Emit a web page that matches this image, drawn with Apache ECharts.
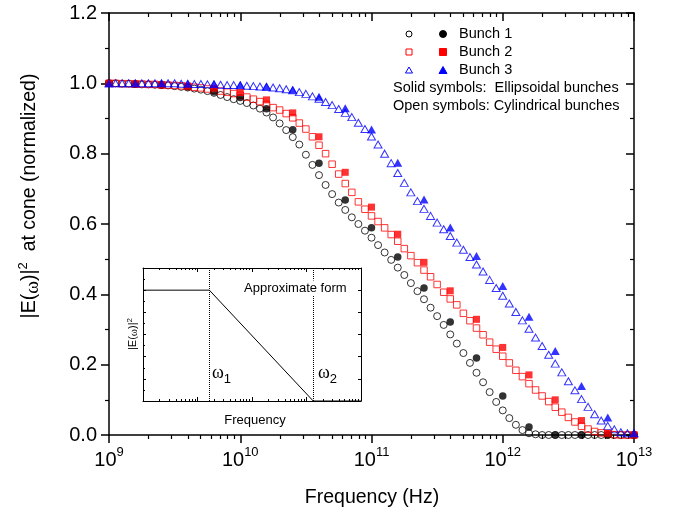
<!DOCTYPE html>
<html lang="en">
<head>
<meta charset="UTF-8" />
<title>Bunch spectra at cone</title>
<script src="https://cdn.jsdelivr.net/npm/echarts@6/dist/echarts.min.js"></script>
<style>
  html, body { margin: 0; padding: 0; background: #fff; }
  #chart { width: 677px; height: 513px; }
</style>
</head>
<body>
<div id="chart"></div>
<script>
// log10 of frequency (Hz) for the dense open-symbol series
const openExp = [
  9.00, 9.05, 9.10, 9.15, 9.20, 9.25, 9.30, 9.35, 9.40, 9.45,
  9.50, 9.55, 9.60, 9.65, 9.70, 9.75, 9.80, 9.85, 9.90, 9.95,
  10.00, 10.05, 10.10, 10.15, 10.20, 10.25, 10.30, 10.35, 10.40, 10.45,
  10.50, 10.55, 10.60, 10.65, 10.70, 10.75, 10.80, 10.85, 10.90, 10.95,
  11.00, 11.05, 11.10, 11.15, 11.20, 11.25, 11.30, 11.35, 11.40, 11.45,
  11.50, 11.55, 11.60, 11.65, 11.70, 11.75, 11.80, 11.85, 11.90, 11.95,
  12.00, 12.05, 12.10, 12.15, 12.20, 12.25, 12.30, 12.35, 12.40, 12.45,
  12.50, 12.55, 12.60, 12.65, 12.70, 12.75, 12.80, 12.85, 12.90, 12.95,
  13.00
]
// log10 of frequency (Hz) for the sparse solid-symbol series
const solidExp = [
  9.0, 9.2, 9.4, 9.6, 9.8, 10.0, 10.2, 10.4, 10.6, 10.8,
  11.0, 11.2, 11.4, 11.6, 11.8, 12.0, 12.2, 12.4, 12.6, 12.8, 13.0
]

// cylindrical bunches (open symbols)
const bunch1Open = [
  1.000, 1.000, 0.999, 0.999, 0.998, 0.997, 0.997, 0.996, 0.995, 0.994,
  0.992, 0.990, 0.988, 0.985, 0.982, 0.978, 0.973, 0.967, 0.961, 0.955,
  0.950, 0.944, 0.937, 0.928, 0.917, 0.903, 0.886, 0.867, 0.847, 0.826,
  0.797, 0.768, 0.739, 0.711, 0.685, 0.661, 0.640, 0.619, 0.600, 0.581,
  0.561, 0.540, 0.519, 0.498, 0.476, 0.455, 0.432, 0.409, 0.386, 0.362,
  0.338, 0.313, 0.286, 0.260, 0.233, 0.205, 0.177, 0.150, 0.122, 0.094,
  0.070, 0.048, 0.029, 0.014, 0.005, 0.002, 0, 0, 0, 0,
  0, 0, 0, 0, 0, 0, 0, 0, 0, 0,
  0
]
const bunch2Open = [
  1.000, 1.000, 0.999, 0.999, 0.998, 0.998, 0.997, 0.997, 0.996, 0.995,
  0.994, 0.993, 0.991, 0.989, 0.987, 0.984, 0.981, 0.978, 0.975, 0.971,
  0.966, 0.961, 0.955, 0.948, 0.940, 0.931, 0.924, 0.914, 0.902, 0.887,
  0.870, 0.848, 0.824, 0.800, 0.770, 0.742, 0.715, 0.690, 0.663, 0.642,
  0.623, 0.607, 0.589, 0.570, 0.551, 0.530, 0.510, 0.490, 0.469, 0.450,
  0.428, 0.406, 0.387, 0.370, 0.346, 0.325, 0.304, 0.285, 0.264, 0.244,
  0.224, 0.205, 0.184, 0.166, 0.146, 0.128, 0.111, 0.095, 0.079, 0.065,
  0.050, 0.037, 0.025, 0.017, 0.010, 0.006, 0.003, 0.001, 0, 0,
  0
]
const bunch3Open = [
  1.000, 1.000, 1.000, 1.000, 1.000, 1.000, 1.000, 1.000, 1.000, 1.000,
  1.000, 0.999, 0.999, 0.998, 0.998, 0.997, 0.997, 0.996, 0.995, 0.995,
  0.994, 0.993, 0.992, 0.991, 0.990, 0.988, 0.986, 0.983, 0.980, 0.975,
  0.970, 0.963, 0.956, 0.947, 0.938, 0.927, 0.916, 0.904, 0.888, 0.870,
  0.849, 0.826, 0.800, 0.773, 0.745, 0.717, 0.690, 0.665, 0.643, 0.623,
  0.604, 0.585, 0.566, 0.547, 0.527, 0.506, 0.485, 0.465, 0.441, 0.418,
  0.396, 0.374, 0.350, 0.326, 0.302, 0.277, 0.253, 0.228, 0.203, 0.178,
  0.153, 0.127, 0.102, 0.080, 0.059, 0.041, 0.026, 0.016, 0.008, 0.005,
  0.005
]

// ellipsoidal bunches (solid symbols)
const bunch1Solid = [
  1.000, 0.998, 0.995, 0.990, 0.976, 0.960, 0.928, 0.868, 0.773, 0.668,
  0.589, 0.506, 0.418, 0.321, 0.219, 0.111, 0.023, 0, 0, 0, 0
]
const bunch2Solid = [
  1.000, 0.998, 0.995, 0.992, 0.986, 0.974, 0.953, 0.916, 0.848, 0.747,
  0.648, 0.571, 0.491, 0.410, 0.329, 0.249, 0.171, 0.100, 0.041, 0.005, 0
]
const bunch3Solid = [
  1.000, 1.000, 1.000, 0.999, 0.998, 0.996, 0.991, 0.982, 0.962, 0.929,
  0.869, 0.774, 0.670, 0.590, 0.509, 0.424, 0.336, 0.239, 0.139, 0.050, 0.005
]

// inset: schematic approximate form
const insetFreq = [1e9, 1.65e10, 1.33e12, 1e13]
const insetLevel = [1, 1, 0, 0]
const omega1 = 1.65e10
const omega2 = 1.33e12

const decadeTicks = [1e9, 1e10, 1e11, 1e12, 1e13]
const minorTicks = []
decadeTicks.slice(0, -1).forEach(function (d) {
  for (let m = 2; m <= 9; m++) minorTicks.push(d * m)
})

const black = '#000'
const red = '#ff0000'
const blue = '#0000ff'
const font = 'Liberation Sans, Arial, sans-serif'
const serif = 'Liberation Serif, DejaVu Serif, serif'

function pairs(exps, vals) {
  return exps.map(function (e, i) { return [Math.pow(10, e), vals[i]] })
}

const chart = echarts.init(document.getElementById('chart'))

function lineStyle(w) {
  return { color: black, width: w }
}

function logAxis(grid, pos, opts) {
  return Object.assign({
    type: 'log', gridIndex: grid, position: pos,
    min: 1e9, max: 1e13,
    axisLine: { show: false, onZero: false },
    axisLabel: { show: false },
    splitLine: { show: false }
  }, opts)
}

const xAxes = [
  // main plot, bottom: line, decade ticks and labels
  logAxis(0, 'bottom', {
    axisLine: { show: true, onZero: false, lineStyle: lineStyle(1.5) },
    axisTick: { show: true, inside: false, length: 8, lineStyle: lineStyle(1.5), customValues: decadeTicks },
    axisLabel: {
      show: true, margin: 11, customValues: decadeTicks,
      formatter: function (v) { return '{b|10}{s|' + Math.round(Math.log10(v)) + '}' },
      rich: {
        b: { fontSize: 20, fontFamily: font, color: black, lineHeight: 24, verticalAlign: 'bottom' },
        s: { fontSize: 13, fontFamily: font, color: black, lineHeight: 13, verticalAlign: 'top' }
      }
    }
  }),
  // main plot, bottom: minor ticks
  logAxis(0, 'bottom', {
    axisTick: { show: true, inside: false, length: 4, lineStyle: lineStyle(1.2), customValues: minorTicks }
  }),
  // main plot, top mirror
  logAxis(0, 'top', {
    axisLine: { show: true, onZero: false, lineStyle: lineStyle(1.5) },
    axisTick: { show: true, inside: true, length: 8, lineStyle: lineStyle(1.5), customValues: decadeTicks }
  }),
  logAxis(0, 'top', {
    axisTick: { show: true, inside: true, length: 4, lineStyle: lineStyle(1.2), customValues: minorTicks }
  }),
  // inset frame
  logAxis(1, 'bottom', {
    axisLine: { show: true, onZero: false, lineStyle: lineStyle(1) },
    axisTick: { show: true, inside: true, length: 4, lineStyle: lineStyle(1), customValues: decadeTicks }
  }),
  logAxis(1, 'bottom', {
    axisTick: { show: true, inside: true, length: 2, lineStyle: lineStyle(1), customValues: minorTicks }
  }),
  logAxis(1, 'top', {
    axisLine: { show: true, onZero: false, lineStyle: lineStyle(1) },
    axisTick: { show: true, inside: true, length: 4, lineStyle: lineStyle(1), customValues: decadeTicks }
  }),
  logAxis(1, 'top', {
    axisTick: { show: true, inside: true, length: 2, lineStyle: lineStyle(1), customValues: minorTicks }
  })
]

function valueAxis(grid, pos, opts) {
  return Object.assign({
    type: 'value', gridIndex: grid, position: pos,
    min: 0, max: 1.2, interval: 0.2,
    splitLine: { show: false },
    axisLabel: { show: false }
  }, opts)
}

const yAxes = [
  valueAxis(0, 'left', {
    axisLine: { show: true, onZero: false, lineStyle: lineStyle(1.5) },
    axisTick: { show: true, inside: false, length: 8, lineStyle: lineStyle(1.5) },
    minorTick: { show: true, splitNumber: 2, length: 4, lineStyle: lineStyle(1.2) },
    axisLabel: {
      show: true, margin: 12, fontSize: 20, fontFamily: font, color: black,
      formatter: function (v) { return v.toFixed(1) }
    }
  }),
  valueAxis(0, 'right', {
    axisLine: { show: true, onZero: false, lineStyle: lineStyle(1.5) },
    axisTick: { show: true, inside: true, length: 8, lineStyle: lineStyle(1.5) },
    minorTick: { show: true, splitNumber: 2, length: 4, lineStyle: lineStyle(1.2) }
  }),
  valueAxis(1, 'left', {
    axisLine: { show: true, onZero: false, lineStyle: lineStyle(1) },
    axisTick: { show: true, inside: true, length: 3, lineStyle: lineStyle(1) },
    minorTick: { show: true, splitNumber: 2, length: 2, lineStyle: lineStyle(1) }
  }),
  valueAxis(1, 'right', {
    axisLine: { show: true, onZero: false, lineStyle: lineStyle(1) },
    axisTick: { show: true, inside: true, length: 3, lineStyle: lineStyle(1) }
  })
]

function openSeries(name, symbol, size, color, vals) {
  return {
    name: name, type: 'scatter', xAxisIndex: 0, yAxisIndex: 0,
    symbol: symbol, symbolSize: size, clip: false, silent: true, z: 3,
    itemStyle: { color: 'rgba(255,255,255,0)', borderColor: color, borderWidth: 1 },
    data: pairs(openExp, vals)
  }
}

function solidSeries(name, symbol, size, color, vals) {
  return {
    name: name, type: 'scatter', xAxisIndex: 0, yAxisIndex: 0,
    symbol: symbol, symbolSize: size, clip: false, silent: true, z: 4,
    itemStyle: { color: color },
    data: pairs(solidExp, vals)
  }
}

const series = [
  openSeries('Bunch 1 (cylindrical)', 'circle', 7, black, bunch1Open),
  openSeries('Bunch 2 (cylindrical)', 'rect', 6.5, red, bunch2Open),
  openSeries('Bunch 3 (cylindrical)', 'triangle', [8, 7], blue, bunch3Open),
  solidSeries('Bunch 1 (ellipsoidal)', 'circle', 7.5, black, bunch1Solid),
  solidSeries('Bunch 2 (ellipsoidal)', 'rect', 7, red, bunch2Solid),
  solidSeries('Bunch 3 (ellipsoidal)', 'triangle', [9, 8], blue, bunch3Solid),
  {
    name: 'Approximate form', type: 'line', xAxisIndex: 4, yAxisIndex: 2,
    symbol: 'none', silent: true, z: 5,
    lineStyle: { color: black, width: 1 },
    data: insetFreq.map(function (f, i) { return [f, insetLevel[i]] }),
    markLine: {
      silent: true, symbol: ['none', 'none'], label: { show: false },
      lineStyle: { type: 'dotted', color: black, width: 1 },
      data: [{ xAxis: omega1 }, { xAxis: omega2 }]
    }
  }
]

function txt(x, y, text, size, extra) {
  return {
    type: 'text', x: x, y: y, z: 10,
    style: Object.assign({
      text: text, fontSize: size, fontFamily: font, fill: black,
      textAlign: 'left', textVerticalAlign: 'middle'
    }, extra || {})
  }
}

const legendRows = [
  { label: 'Bunch 1', y: 34, color: black, shape: 'circle' },
  { label: 'Bunch 2', y: 52, color: red, shape: 'rect' },
  { label: 'Bunch 3', y: 70, color: blue, shape: 'triangle' }
]

function legendMark(shape, cx, cy, color, filled) {
  const style = filled
    ? { fill: color, stroke: color, lineWidth: 1 }
    : { fill: 'none', stroke: color, lineWidth: 1 }
  if (shape === 'circle') {
    return { type: 'circle', z: 10, shape: { cx: cx, cy: cy, r: filled ? 3.5 : 3 }, style: style }
  }
  if (shape === 'rect') {
    const s = filled ? 7 : 6
    return { type: 'rect', z: 10, shape: { x: cx - s / 2, y: cy - s / 2, width: s, height: s }, style: style }
  }
  const h = filled ? 7 : 6
  const w = filled ? 8 : 7
  return {
    type: 'polygon', z: 10,
    shape: { points: [[cx, cy - h / 2], [cx + w / 2, cy + h / 2], [cx - w / 2, cy + h / 2]] },
    style: style
  }
}

const graphics = []
legendRows.forEach(function (r) {
  graphics.push(legendMark(r.shape, 409, r.y, r.color, false))
  graphics.push(legendMark(r.shape, 443, r.y, r.color, true))
  graphics.push(txt(459, r.y, r.label, 14.5))
})
graphics.push(txt(393, 88, 'Solid symbols:  Ellipsoidal bunches', 14.5))
graphics.push(txt(393, 106, 'Open symbols: Cylindrical bunches', 14.5))

// main axis titles
graphics.push(txt(372, 498, 'Frequency (Hz)', 19.5, { textAlign: 'center' }))
graphics.push({
  type: 'text', x: 30, y: 196, rotation: Math.PI / 2, z: 10,
  style: {
    text: '|E({w|ω})|{s|2}  at cone (normalized)',
    fontSize: 19.5, fontFamily: font, fill: black,
    textAlign: 'center', textVerticalAlign: 'middle',
    rich: {
      w: { fontSize: 19.5, fontFamily: serif, lineHeight: 26, verticalAlign: 'bottom' },
      s: { fontSize: 13, fontFamily: font, lineHeight: 13, verticalAlign: 'top' }
    }
  }
})

// inset labels
graphics.push(txt(244, 288, 'Approximate form', 13, { backgroundColor: '#fff', padding: [1, 1, 1, 0] }))
graphics.push(txt(255, 420, 'Frequency', 13, { textAlign: 'center' }))
graphics.push({
  type: 'text', x: 133, y: 334, rotation: Math.PI / 2, z: 10,
  style: {
    text: '|E({w|ω})|{s|2}',
    fontSize: 11, fontFamily: font, fill: black,
    textAlign: 'center', textVerticalAlign: 'middle',
    rich: {
      w: { fontSize: 11, fontFamily: serif, lineHeight: 14, verticalAlign: 'bottom' },
      s: { fontSize: 8, fontFamily: font, lineHeight: 8, verticalAlign: 'top' }
    }
  }
})
const omegaRich = {
  w: { fontSize: 18, fontFamily: serif, lineHeight: 22, verticalAlign: 'top' },
  d: { fontSize: 13, fontFamily: font, lineHeight: 13, verticalAlign: 'bottom' }
}
graphics.push(txt(212, 375, '{w|ω}{d|1}', 18, { rich: omegaRich }))
graphics.push(txt(318, 375, '{w|ω}{d|2}', 18, { rich: omegaRich }))

chart.setOption({
  animation: false,
  grid: [
    { left: 109, right: 43, top: 13, bottom: 78 },
    { left: 143, top: 268, width: 218, height: 133 }
  ],
  xAxis: xAxes,
  yAxis: yAxes,
  series: series,
  graphic: graphics
})
</script>
</body>
</html>
